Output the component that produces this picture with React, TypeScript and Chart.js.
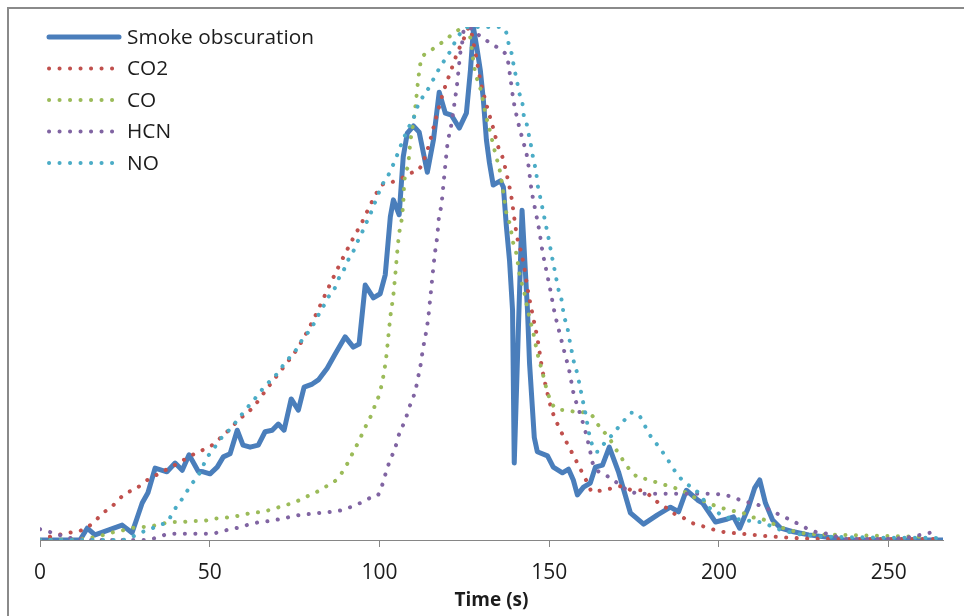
import React, { useEffect, useRef } from "react";
import { Chart, registerables } from "chart.js";

Chart.register(...registerables);

// Time axis ticks (s)
const xTicks = [0, 50, 100, 150, 200, 250];

// Smoke obscuration (normalised)
const smokeTime = [0, 11.8, 13.9, 16.2, 24.2, 27.1, 28.6, 30.1, 31.8, 33.9, 37.4, 39.8, 41.9, 43.9, 46.6, 48.1, 50.1, 52.2, 54, 56, 58.1, 59.8, 61.9, 64.3, 66.3, 68.4, 70.2, 71.9, 74, 76.1, 77.8, 80.2, 82, 84.6, 87, 89.9, 92.3, 94, 95.8, 98.2, 100.2, 101.7, 103.2, 104.1, 105.8, 107, 108.2, 110, 111.7, 114.1, 115.9, 117.6, 119.4, 121.2, 123.5, 125.6, 126.8, 127.7, 128.8, 129.7, 130.6, 131.5, 132.4, 133.5, 135.6, 136.5, 137.4, 138.3, 139.2, 139.7, 142.0, 143.6, 144.2, 145.6, 146.5, 149.5, 151.2, 153.9, 155.7, 157.1, 158.3, 160.1, 162.1, 163.6, 165.7, 167.7, 170.4, 173.9, 177.8, 181.9, 185.7, 188.1, 190.4, 193.7, 195.2, 199, 202.5, 204.3, 206.1, 208.7, 210.5, 212, 213.7, 215.8, 218.2, 222, 226.4, 233.8, 236.7, 266.2];
const smokeValue = [0, 0, 0.023, 0.01, 0.029, 0.014, 0.043, 0.072, 0.092, 0.14, 0.133, 0.15, 0.136, 0.166, 0.134, 0.133, 0.129, 0.142, 0.162, 0.168, 0.214, 0.185, 0.181, 0.185, 0.211, 0.214, 0.226, 0.214, 0.275, 0.253, 0.298, 0.304, 0.312, 0.335, 0.363, 0.396, 0.376, 0.382, 0.497, 0.472, 0.48, 0.517, 0.63, 0.663, 0.634, 0.747, 0.793, 0.807, 0.795, 0.717, 0.78, 0.873, 0.832, 0.828, 0.803, 0.832, 0.916, 0.998, 0.955, 0.916, 0.858, 0.78, 0.735, 0.692, 0.7, 0.688, 0.61, 0.546, 0.448, 0.15, 0.643, 0.448, 0.345, 0.2, 0.172, 0.164, 0.142, 0.131, 0.138, 0.117, 0.088, 0.103, 0.111, 0.142, 0.146, 0.181, 0.133, 0.053, 0.031, 0.049, 0.064, 0.055, 0.097, 0.078, 0.072, 0.035, 0.041, 0.045, 0.023, 0.064, 0.101, 0.117, 0.072, 0.039, 0.023, 0.016, 0.01, 0.004, 0, 0];

// CO2 (normalised)
const co2Time = [0, 2.7, 8.5, 11.8, 14, 16.5, 18.6, 21, 23.3, 25.6, 28.3, 30.7, 33.3, 36, 38.6, 41.3, 43.9, 46.6, 49.2, 51.9, 54, 56.3, 58.4, 60.7, 62.8, 67.2, 72.2, 76.1, 80.5, 84, 87.9, 92, 94.9, 97.6, 100.8, 103.8, 106.7, 109.1, 111.7, 114.1, 116.5, 118.8, 120.9, 122.9, 124.4, 125.6, 126.4, 128, 129.7, 131.8, 133.5, 135, 136.2, 137.7, 138.9, 139.7, 140.6, 141.5, 142.7, 143.6, 145.3, 146.5, 148, 149.2, 150.6, 153, 155.7, 158.6, 161.3, 162.7, 165.7, 168.6, 171.6, 174.5, 177.2, 179.8, 181.9, 184.6, 186.9, 189.6, 192.2, 195.2, 198.1, 201.1, 207, 213.2, 222, 240, 264];
const co2Value = [0, 0.006, 0.014, 0.018, 0.025, 0.039, 0.053, 0.064, 0.08, 0.092, 0.1, 0.113, 0.123, 0.133, 0.142, 0.152, 0.162, 0.172, 0.179, 0.191, 0.205, 0.218, 0.234, 0.246, 0.259, 0.298, 0.341, 0.376, 0.429, 0.478, 0.532, 0.585, 0.62, 0.657, 0.692, 0.698, 0.706, 0.715, 0.723, 0.76, 0.819, 0.873, 0.912, 0.949, 0.971, 0.988, 1.0, 0.959, 0.897, 0.842, 0.803, 0.766, 0.747, 0.706, 0.667, 0.628, 0.589, 0.567, 0.53, 0.491, 0.433, 0.394, 0.331, 0.294, 0.257, 0.218, 0.183, 0.146, 0.111, 0.094, 0.097, 0.101, 0.105, 0.097, 0.097, 0.086, 0.074, 0.062, 0.051, 0.043, 0.033, 0.027, 0.021, 0.016, 0.012, 0.008, 0.004, 0.002, 0.002];

// CO (normalised)
const coTime = [0, 14.7, 17.7, 20.9, 23.9, 26.8, 29.8, 32.7, 35.7, 38.6, 41.9, 44.8, 47.8, 50.7, 53.7, 56.6, 59.6, 62.5, 65.4, 68.4, 71.3, 74.3, 77.2, 79.6, 82.5, 84.9, 87.6, 89.3, 90.8, 92.3, 93.8, 95.2, 96.4, 97.9, 98.8, 99.9, 101.1, 102, 102.6, 103.2, 104.1, 104.7, 105.2, 105.8, 106.4, 107, 107.3, 108.5, 109.1, 110, 110.8, 111.4, 112.3, 114.1, 116.5, 119.1, 121.5, 123.8, 125.9, 128.2, 130, 131.2, 132.7, 134.1, 135.6, 136.5, 137.4, 138.3, 139.4, 140.3, 141.2, 142.7, 143.9, 145.3, 146.5, 148, 149.5, 150.6, 151.8, 154.8, 157.7, 160.7, 163.3, 164.8, 166.9, 168.6, 170.1, 171.9, 173.6, 176, 178.4, 181.3, 184.3, 187.2, 189.9, 192.5, 195.5, 198.4, 201.1, 204, 207, 209.6, 212.6, 215.5, 218.2, 221.1, 224.1, 226.4, 235.8, 261.8];
const coValue = [0, 0.004, 0.008, 0.014, 0.018, 0.023, 0.025, 0.027, 0.031, 0.035, 0.035, 0.037, 0.037, 0.041, 0.043, 0.045, 0.049, 0.053, 0.055, 0.06, 0.066, 0.072, 0.08, 0.088, 0.097, 0.107, 0.119, 0.135, 0.152, 0.172, 0.191, 0.211, 0.228, 0.248, 0.265, 0.283, 0.318, 0.357, 0.396, 0.435, 0.478, 0.52, 0.559, 0.598, 0.618, 0.657, 0.696, 0.735, 0.776, 0.815, 0.858, 0.897, 0.936, 0.949, 0.961, 0.973, 0.986, 0.996, 1.0, 0.912, 0.873, 0.832, 0.793, 0.754, 0.715, 0.676, 0.637, 0.618, 0.579, 0.559, 0.52, 0.481, 0.442, 0.404, 0.365, 0.327, 0.288, 0.269, 0.257, 0.253, 0.25, 0.248, 0.238, 0.22, 0.205, 0.189, 0.172, 0.154, 0.138, 0.123, 0.119, 0.113, 0.107, 0.101, 0.094, 0.084, 0.076, 0.068, 0.062, 0.057, 0.053, 0.045, 0.041, 0.033, 0.025, 0.019, 0.014, 0.012, 0.01, 0.006];

// HCN (normalised)
const hcnTime = [0, 2.7, 5.6, 8.8, 17.7, 29.5, 32.1, 35.1, 38, 43.9, 50.1, 53.1, 56, 59, 61.9, 64.9, 67.8, 70.8, 73.7, 76.7, 79.9, 82.8, 85.8, 88.7, 91.4, 94.3, 97.3, 99.6, 100.8, 101.7, 102.6, 103.8, 104.7, 105.5, 106.7, 107.9, 108.8, 110, 110.8, 111.4, 112, 112.9, 113.5, 114.4, 115, 115.6, 116.2, 117, 117.6, 118.2, 118.8, 119.4, 120, 121.2, 122.1, 122.9, 123.5, 123.8, 124.4, 124.7, 125.9, 128.5, 131.2, 133.5, 136.2, 137.7, 138.6, 139.4, 140.6, 142.1, 143.6, 144.8, 145.9, 147.1, 148, 149.2, 150.4, 151.5, 153, 154.5, 156, 157.1, 158.9, 160.7, 162.1, 162.7, 166.6, 168.9, 171.6, 174.2, 176.9, 182.8, 191.9, 198.1, 201.1, 204, 207, 209.6, 212.6, 215.2, 217.9, 220.5, 223.5, 226.4, 229.4, 232, 235, 237.9, 247.6, 256.5, 259.4, 262.1];
const hcnValue = [0.021, 0.016, 0.01, 0.004, 0, 0, 0.001, 0.006, 0.012, 0.012, 0.012, 0.016, 0.021, 0.025, 0.031, 0.035, 0.037, 0.041, 0.045, 0.049, 0.051, 0.053, 0.055, 0.058, 0.064, 0.072, 0.082, 0.088, 0.107, 0.127, 0.146, 0.166, 0.181, 0.201, 0.22, 0.24, 0.259, 0.279, 0.298, 0.318, 0.337, 0.376, 0.396, 0.435, 0.474, 0.513, 0.552, 0.591, 0.634, 0.651, 0.69, 0.731, 0.77, 0.811, 0.852, 0.891, 0.93, 0.949, 0.971, 0.99, 1.0, 0.988, 0.975, 0.965, 0.953, 0.938, 0.899, 0.86, 0.821, 0.782, 0.743, 0.682, 0.643, 0.602, 0.563, 0.524, 0.485, 0.446, 0.405, 0.366, 0.327, 0.288, 0.25, 0.211, 0.172, 0.152, 0.127, 0.117, 0.103, 0.094, 0.09, 0.09, 0.09, 0.09, 0.088, 0.084, 0.076, 0.072, 0.066, 0.058, 0.049, 0.041, 0.031, 0.021, 0.014, 0.012, 0.006, 0.002, 0.002, 0.006, 0.01, 0.014];

// NO (normalised)
const noTime = [0, 24.2, 27.1, 29.5, 32.4, 35.1, 37.7, 39.2, 41, 42.7, 44.2, 46.3, 47.8, 48.9, 50.7, 52.5, 54.2, 56.6, 58.1, 60.1, 62.2, 64, 66, 68.1, 70.2, 71.9, 73.7, 75.8, 77.2, 79, 80.8, 82.3, 83.7, 85.2, 87, 88.1, 89.6, 90.8, 92.3, 93.5, 94.9, 96.1, 97.3, 98.5, 100.8, 102.6, 105, 106.1, 108.5, 110, 110.8, 112, 113.8, 115.3, 116.7, 118.2, 120, 121.5, 122.9, 124.7, 126.2, 129.7, 132.7, 135.6, 137.4, 138, 138.9, 139.4, 140, 140.6, 141.2, 142.1, 142.4, 143.3, 143.9, 144.5, 145, 145.6, 146.2, 146.5, 147.1, 147.7, 148.3, 148.9, 149.5, 150.1, 150.6, 151.2, 151.8, 152.4, 153, 153.9, 154.2, 155.1, 155.7, 156.2, 156.8, 157.4, 158.3, 158.9, 159.5, 160.1, 160.7, 161.3, 161.9, 162.7, 164.2, 166.3, 168.3, 170.4, 172.2, 174.2, 176.3, 177.8, 179.2, 181, 182.8, 184.6, 186.3, 187.8, 189.9, 192.2, 194.6, 196.6, 199, 201.1, 207.2, 213.2, 216.1, 219, 222, 224.9, 245, 265];
const noValue = [0, 0, 0.006, 0.014, 0.021, 0.029, 0.037, 0.055, 0.072, 0.088, 0.105, 0.123, 0.14, 0.158, 0.173, 0.191, 0.205, 0.22, 0.234, 0.25, 0.267, 0.281, 0.298, 0.312, 0.327, 0.343, 0.357, 0.374, 0.39, 0.405, 0.423, 0.442, 0.458, 0.476, 0.493, 0.511, 0.528, 0.546, 0.563, 0.581, 0.6, 0.618, 0.635, 0.655, 0.692, 0.711, 0.747, 0.766, 0.803, 0.821, 0.838, 0.856, 0.873, 0.891, 0.908, 0.926, 0.943, 0.961, 0.979, 0.994, 1.0, 1.0, 1.0, 1.0, 0.988, 0.969, 0.949, 0.93, 0.91, 0.891, 0.871, 0.852, 0.832, 0.813, 0.793, 0.774, 0.754, 0.735, 0.715, 0.696, 0.676, 0.657, 0.637, 0.618, 0.598, 0.579, 0.559, 0.54, 0.519, 0.499, 0.48, 0.46, 0.441, 0.421, 0.402, 0.382, 0.363, 0.343, 0.324, 0.304, 0.285, 0.265, 0.246, 0.224, 0.203, 0.185, 0.172, 0.189, 0.203, 0.22, 0.234, 0.248, 0.244, 0.228, 0.209, 0.193, 0.177, 0.16, 0.142, 0.127, 0.113, 0.101, 0.088, 0.066, 0.057, 0.047, 0.039, 0.033, 0.025, 0.018, 0.014, 0.01, 0.005, 0.004];

const seriesNames = ["Smoke obscuration", "CO2", "CO", "HCN", "NO"];
const seriesColors = ["#4A7EBB", "#C0504D", "#9BBB59", "#8064A2", "#4BACC6"];

const TEXT_COLOR = "#1c1c1c";
const AXIS_COLOR = "#868686";
const FONT = '"Open Sans", "Noto Sans", sans-serif';
const DOT_DASH = [0.1, 10.4];

const toPoints = (t: number[], v: number[]) => t.map((x, i) => ({ x, y: v[i] }));

// Legend drawn inside the plot area, top-left, with line samples
const insetLegend = {
  id: "insetLegend",
  afterDraw(chart: any) {
    const ctx = chart.ctx as CanvasRenderingContext2D;
    chart.data.datasets.forEach((ds: any, i: number) => {
      const y = 37 + i * 31.5;
      ctx.save();
      ctx.strokeStyle = ds.borderColor;
      ctx.lineWidth = ds.borderWidth;
      ctx.lineCap = "round";
      ctx.setLineDash(ds.borderDash || []);
      ctx.beginPath();
      ctx.moveTo(49, y);
      ctx.lineTo(i === 0 ? 119 : 114, y);
      ctx.stroke();
      ctx.setLineDash([]);
      ctx.fillStyle = TEXT_COLOR;
      ctx.font = `20.8px ${FONT}`;
      ctx.textBaseline = "middle";
      ctx.textAlign = "left";
      ctx.fillText(ds.label, 127, y + 1);
      ctx.restore();
    });
  },
};

export default function App() {
  const canvasRef = useRef<HTMLCanvasElement | null>(null);

  useEffect(() => {
    const canvas = canvasRef.current;
    if (!canvas) return;

    const series = [
      toPoints(smokeTime, smokeValue),
      toPoints(co2Time, co2Value),
      toPoints(coTime, coValue),
      toPoints(hcnTime, hcnValue),
      toPoints(noTime, noValue),
    ];

    const datasets = series.map((data, i) => {
      const solid = i === 0;
      return {
        label: seriesNames[i],
        data,
        borderColor: seriesColors[i],
        backgroundColor: seriesColors[i],
        borderWidth: solid ? 5 : 4,
        borderDash: solid ? [] : DOT_DASH,
        borderCapStyle: "round" as const,
        borderJoinStyle: "round" as const,
        pointRadius: 0,
        pointHoverRadius: 0,
        tension: 0,
        cubicInterpolationMode: solid ? ("default" as const) : ("monotone" as const),
        fill: false,
        order: 5 - i,
      };
    });

    const chart = new Chart(canvas, {
      type: "line",
      data: { datasets },
      plugins: [insetLegend],
      options: {
        animation: false,
        responsive: false,
        maintainAspectRatio: false,
        parsing: true,
        layout: { padding: { left: 40, right: 21, top: 27, bottom: 4 } },
        plugins: {
          legend: { display: false },
          tooltip: { enabled: false },
        },
        scales: {
          x: {
            type: "linear",
            min: 0,
            max: 266,
            afterBuildTicks: (scale: any) => {
              scale.ticks = xTicks.map((value) => ({ value }));
            },
            afterFit: (scale: any) => {
              scale.height = 72;
            },
            grid: {
              drawOnChartArea: false,
              drawTicks: true,
              tickLength: 7,
              color: AXIS_COLOR,
              lineWidth: 1,
            },
            border: { display: true, color: AXIS_COLOR, width: 1 },
            ticks: {
              padding: 13,
              color: TEXT_COLOR,
              maxRotation: 0,
              font: { family: FONT, size: 21 },
            },
            title: {
              display: true,
              text: "Time (s)",
              color: TEXT_COLOR,
              font: { family: FONT, size: 19, weight: "bold" },
              padding: { top: 0, bottom: 0 },
            },
          },
          y: {
            display: false,
            min: 0,
            max: 1,
          },
        },
      },
    });

    return () => chart.destroy();
  }, []);

  return (
    <div
      style={{
        position: "fixed",
        left: 0,
        top: 0,
        width: 964,
        height: 616,
        background: "#ffffff",
        overflow: "hidden",
      }}
    >
      <div
        style={{
          position: "absolute",
          left: 7,
          top: 7,
          width: 1000,
          height: 700,
          borderTop: "2px solid #8a8a8a",
          borderLeft: "2px solid #8a8a8a",
        }}
      />
      <canvas
        ref={canvasRef}
        width={964}
        height={616}
        style={{ position: "absolute", left: 0, top: 0, width: 964, height: 616 }}
      />
    </div>
  );
}
